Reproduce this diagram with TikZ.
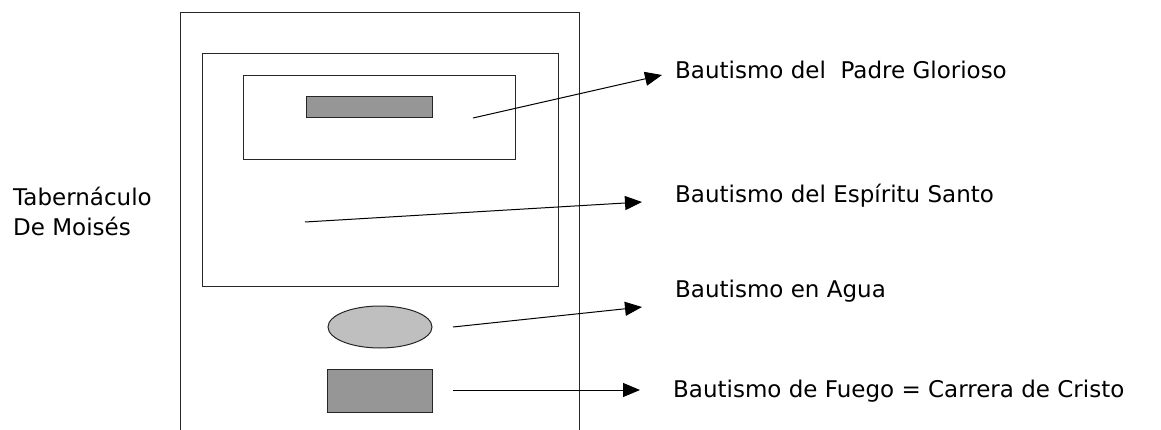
\documentclass[tikz,border=0pt]{standalone}
\usepackage{fontspec}
\setmainfont{DejaVu Sans}
\usetikzlibrary{shapes,arrows.meta,positioning}

\begin{document}
\begin{tikzpicture}[x=1pt,y=-1pt,
	wall/.style={draw=black!85,line width=1pt},
	pieza/.style={wall,inner sep=0pt,fill=black!41},
	lbl/.style={anchor=base west,inner sep=0pt,font=\fontsize{23}{30}\selectfont},
	conn/.style={line width=1pt,-{Triangle[length=17pt,width=14pt]}}]
	\useasboundingbox (0,0) rectangle (1161,430);

	\draw[wall] (180,430) -- (180,13) -- (579,13) -- (579,430);
	\draw[wall] (202,54) rectangle (558,286);
	\draw[wall] (243,76) rectangle (515,160);
	\node[pieza,minimum width=126pt,minimum height=21pt] (arca) at (369,107.5) {};
	\node[pieza,ellipse,fill=black!25,minimum width=104pt,minimum height=42pt] (fuente) at (380,327) {};
	\node[pieza,minimum width=105pt,minimum height=43pt] (altar) at (379.5,390.5) {};

	\node[lbl,align=left] (tab) at (13,236) {Tabernáculo\\De Moisés};
	\node[lbl] (padre) at (675,79) {Bautismo del\ \ Padre Glorioso};
	\node[lbl] (espiritu) at (675,203) {Bautismo del Espíritu Santo};
	\node[lbl] (agua) at (675,297) {Bautismo en Agua};
	\node[lbl] (fuego) at (673,397) {Bautismo de Fuego = Carrera de Cristo};

	\coordinate (p1) at (473,118); \coordinate (q1) at (662,75);
	\coordinate (p2) at (305,222); \coordinate (q2) at (642,202);
	\coordinate (p3) at (453,327); \coordinate (q3) at (642,307);
	\coordinate (p4) at (453,390); \coordinate (q4) at (640,390);
	\foreach \i in {1,...,4} \draw[conn] (p\i) -- (q\i);
\end{tikzpicture}
\end{document}
